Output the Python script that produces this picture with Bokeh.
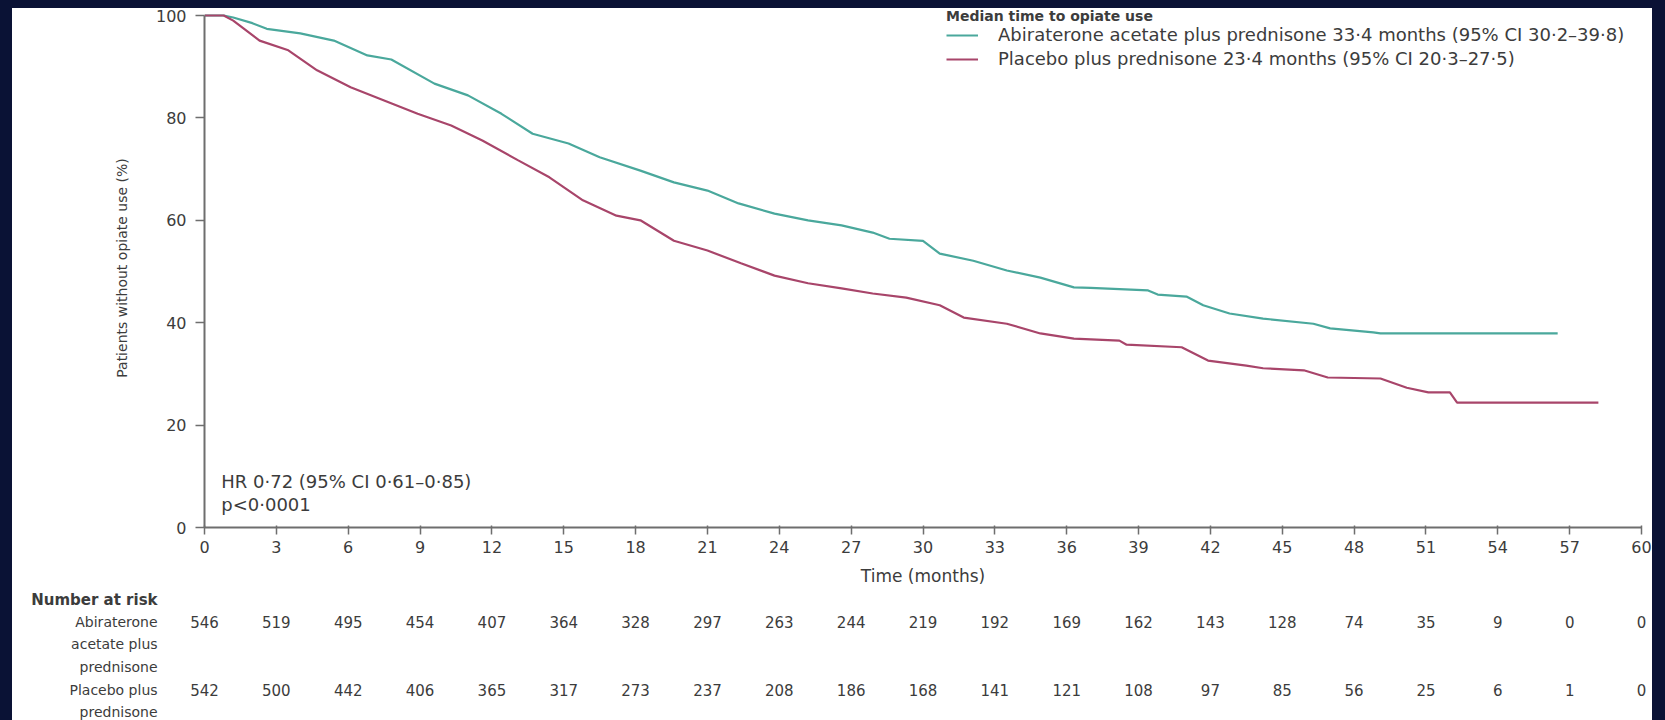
from bokeh.plotting import figure
from bokeh.layouts import column
from bokeh.models import Range1d, FixedTicker, Label, Legend, LegendItem
from bokeh.core.properties import value
from bokeh.embed import file_html
from bokeh.resources import INLINE

# ---------------- data ----------------
abi_t = [0, 0.8, 1.2, 2.0, 2.6, 4.0, 5.4, 6.8, 7.8, 9.6, 11.0, 12.4, 13.7, 15.2, 16.5, 18.2, 19.6,
         21.0, 22.3, 23.8, 25.2, 26.6, 27.9, 28.6, 30.0, 30.7, 32.1, 33.5, 34.9, 36.3, 37.0, 39.4,
         39.8, 41.0, 41.7, 42.8, 44.2, 46.3, 47.0, 48.8, 49.1, 56.5]
abi_s = [100, 100, 99.6, 98.5, 97.4, 96.5, 95.1, 92.2, 91.4, 86.7, 84.4, 80.8, 76.9, 75.0, 72.3, 69.7, 67.4,
         65.8, 63.3, 61.3, 60.0, 59.0, 57.6, 56.4, 56.0, 53.5, 52.1, 50.2, 48.8, 46.9, 46.8, 46.3,
         45.5, 45.1, 43.4, 41.8, 40.8, 39.8, 38.9, 38.1, 37.9, 37.9]
pla_t = [0, 0.8, 1.2, 2.3, 3.5, 4.7, 6.1, 7.5, 8.9, 10.3, 11.6, 13.1, 14.4, 15.8, 17.2, 18.2, 19.6,
         21.0, 22.4, 23.8, 25.2, 26.6, 27.9, 29.3, 30.7, 31.7, 33.5, 34.9, 36.3, 38.2, 38.5, 40.8,
         41.9, 43.5, 44.2, 45.9, 46.9, 49.1, 50.2, 51.1, 52.0, 52.3, 58.2]
pla_s = [100, 100, 99.0, 95.1, 93.2, 89.3, 86.0, 83.4, 80.8, 78.5, 75.6, 71.7, 68.4, 63.9, 60.9, 60.0, 56.0,
         54.1, 51.6, 49.2, 47.7, 46.7, 45.7, 44.9, 43.4, 41.0, 39.8, 37.9, 36.9, 36.5, 35.7, 35.2,
         32.6, 31.6, 31.1, 30.7, 29.3, 29.1, 27.3, 26.4, 26.4, 24.4, 24.4]

risk_times = list(range(0, 61, 3))
risk_abi = [546, 519, 495, 454, 407, 364, 328, 297, 263, 244, 219, 192, 169, 162, 143, 128, 74, 35, 9, 0, 0]
risk_pla = [542, 500, 442, 406, 365, 317, 273, 237, 208, 186, 168, 141, 121, 108, 97, 85, 56, 25, 6, 1, 0]

x_ticks = list(range(0, 61, 3))
y_ticks = [0, 20, 40, 60, 80, 100]

legend_title = "Median time to opiate use"
label_abi = "Abiraterone acetate plus prednisone 33·4 months (95% CI 30·2–39·8)"
label_pla = "Placebo plus prednisone 23·4 months (95% CI 20·3–27·5)"
hr_text = "HR 0·72 (95% CI 0·61–0·85)"
p_text = "p<0·0001"
row_head = "Number at risk"
row_abi = ["Abiraterone", "acetate plus", "prednisone"]
row_pla = ["Placebo plus", "prednisone"]

# ---------------- style / layout ----------------
NAVY = "#0a1235"
GREEN = "#4aa89c"
RED = "#a8456a"
TXT = "#3c3c3c"
AX = "#6e6e6e"
FONT = "DejaVu Sans"

W = 1640            # canvas width (inside the dark side borders)
H1, H2 = 582, 130   # survival panel / risk table heights
FL, FR = 192, 1629  # frame left/right in canvas pixels
Y100, Y0 = 7, 519   # canvas y of 100 % and 0 %

# frame reaches the canvas top so the legend title is not clipped; 100 % stays at Y100
y_top = 100.0 * Y0 / (Y0 - Y100)

p = figure(width=W, height=H1, x_range=Range1d(0, 60), y_range=Range1d(0, y_top),
           output_backend="svg", toolbar_location=None, frame_align=False,
           min_border_left=FL, min_border_right=W - FR, min_border_top=0, min_border_bottom=H1 - Y0,
           background_fill_color="white", border_fill_color="white")
p.outline_line_color = None
p.grid.visible = False

r_abi = p.line(abi_t, abi_s, line_color=GREEN, line_width=2.2)
r_pla = p.line(pla_t, pla_s, line_color=RED, line_width=2.2)

for ax in (p.xaxis[0], p.yaxis[0]):
    ax.axis_line_color = AX
    ax.axis_line_width = 2
    ax.major_tick_line_color = AX
    ax.major_tick_line_width = 1.5
    ax.minor_tick_line_color = None
    ax.major_label_text_font = FONT
    ax.major_label_text_font_size = "16px"
    ax.major_label_text_color = TXT
    ax.axis_label_text_font = FONT
    ax.axis_label_text_font_style = "normal"
    ax.axis_label_text_color = TXT

p.xaxis.ticker = FixedTicker(ticks=x_ticks)
p.yaxis.ticker = FixedTicker(ticks=y_ticks)
p.yaxis.bounds = (0, 100)
p.xaxis.major_tick_in = 2
p.xaxis.major_tick_out = 7
p.yaxis.major_tick_in = 0
p.yaxis.major_tick_out = 9
p.xaxis.major_label_standoff = 6
p.yaxis.major_label_standoff = 9
p.xaxis.axis_label = "Time (months)"
p.xaxis.axis_label_text_font_size = "17px"
p.xaxis.axis_label_standoff = 10
p.yaxis.axis_label = "Patients without opiate use (%)"
p.yaxis.axis_label_text_font_size = "14px"
p.yaxis.axis_label_standoff = 23

legend = Legend(items=[LegendItem(label=label_abi, renderers=[r_abi]),
                       LegendItem(label=label_pla, renderers=[r_pla])],
                title=legend_title, location=(742, 458), padding=0, margin=0, spacing=3,
                label_height=18, glyph_height=18, glyph_width=32, label_standoff=20,
                title_standoff=0, border_line_color=None, background_fill_alpha=0,
                label_text_font=FONT, label_text_font_size="18px", label_text_color=TXT,
                title_text_font=FONT, title_text_font_size="14px", title_text_font_style="bold",
                title_text_color=TXT)
p.add_layout(legend)

p.add_layout(Label(x=0.7, y=9.0, text=hr_text, text_font=FONT, text_font_size="18px",
                   text_color=TXT, text_baseline="middle"))
p.add_layout(Label(x=0.7, y=4.5, text=p_text, text_font=FONT, text_font_size="18px",
                   text_color=TXT, text_baseline="middle"))

# ---------------- number-at-risk table (same month scale) ----------------
px_per_month = (FR - FL) / 60.0
t = figure(width=W, height=H2, output_backend="svg", toolbar_location=None, frame_align=False,
           x_range=Range1d(-FL / px_per_month, (W - FL) / px_per_month),
           y_range=Range1d(H2, 0), x_axis_type=None, y_axis_type=None,
           min_border=0, background_fill_color="white", border_fill_color="white")
t.outline_line_color = None
t.grid.visible = False

Y_HEAD, Y_ABI, Y_PLA, GAP = 9, 31, 99, 22.5
X_LAB = -1.96

t.text(x=risk_times, y=[Y_ABI] * len(risk_times), text=[str(v) for v in risk_abi],
       text_align="center", text_baseline="middle", text_font=value(FONT),
       text_font_size="15px", text_color=TXT)
t.text(x=risk_times, y=[Y_PLA] * len(risk_times), text=[str(v) for v in risk_pla],
       text_align="center", text_baseline="middle", text_font=value(FONT),
       text_font_size="15px", text_color=TXT)

t.text(x=[X_LAB], y=[Y_HEAD], text=[row_head], text_align="right", text_baseline="middle",
       text_font=value(FONT), text_font_size="15px", text_font_style="bold", text_color=TXT)
lab_text = row_abi + row_pla
lab_y = [Y_ABI + i * GAP for i in range(len(row_abi))] + [Y_PLA + i * GAP for i in range(len(row_pla))]
t.text(x=[X_LAB] * len(lab_text), y=lab_y, text=lab_text, text_align="right",
       text_baseline="middle", text_font=value(FONT), text_font_size="14px", text_color=TXT)

layout = column(p, t, spacing=0,
                styles={"position": "absolute", "left": "0px", "top": "0px",
                        "border-style": "solid", "border-color": NAVY,
                        "border-width": "8px 13px 0px 12px", "background-color": "white"})

open("out.html", "w").write(file_html(layout, INLINE))
